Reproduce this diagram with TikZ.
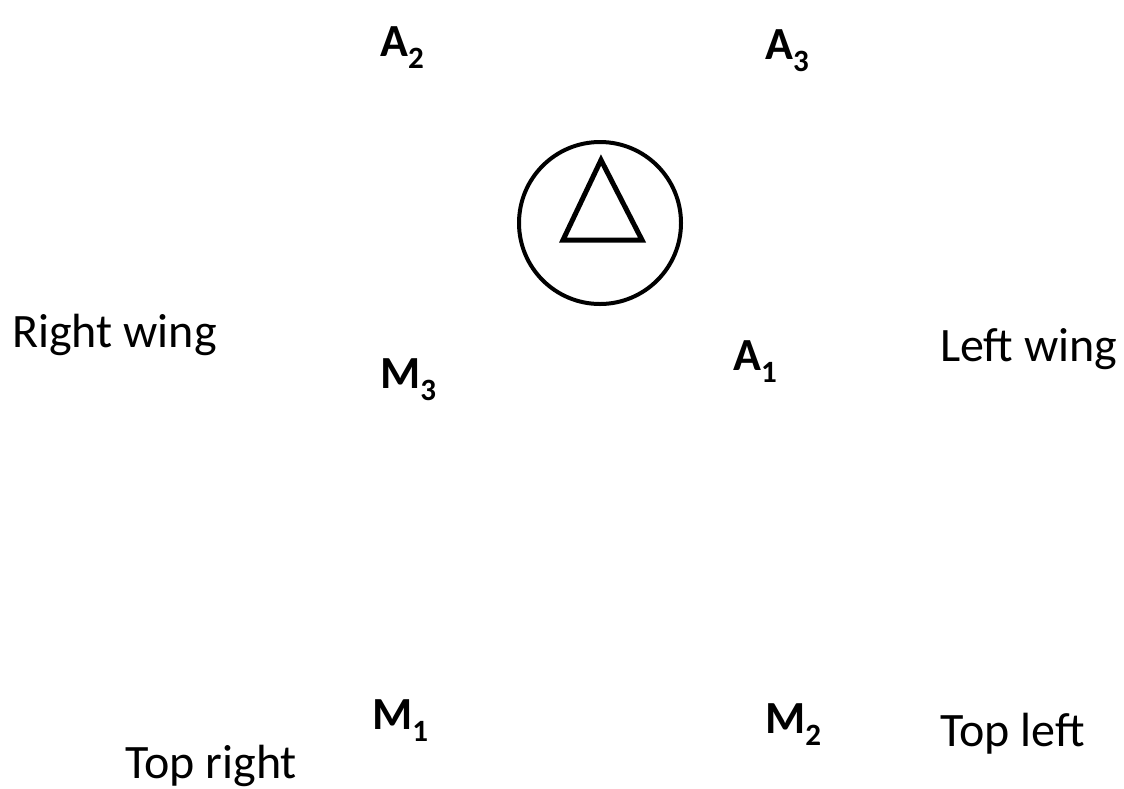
\documentclass[tikz,border=0pt]{standalone}
\usepackage{fontspec}
\setmainfont{Carlito}
\newcommand\subl[2]{#1\raisebox{-12pt}{\fontsize{31}{31}\selectfont #2}}
\begin{document}
\begin{tikzpicture}[x=1pt,y=-1pt,
	side/.style={anchor=base west,inner sep=0pt,font=\fontsize{48}{52}\selectfont},
	posl/.style={anchor=base west,inner sep=0pt,font=\fontsize{46}{52}\selectfont\bfseries}]
	\useasboundingbox (0,0) rectangle (1124,788);
	%symbol
	\node[draw,circle,line width=4pt,minimum size=162pt,inner sep=0pt] (ring) at (600,223) {};
	\draw[line width=5pt,line join=miter] (601,160) -- (563,240) -- (642,240) -- cycle;
	%sides
	\node[side] (rwing) at (12,347) {Right wing};
	\node[side] (lwing) at (940,361) {Left wing};
	\node[side] (tright) at (125,778) {Top right};
	\node[side] (tleft) at (940,746) {Top left};
	%positions
	\node[posl] (a2) at (380,56) {\subl{A}{2}};
	\node[posl] (a3) at (765,59) {\subl{A}{3}};
	\node[posl] (a1) at (733,370) {\subl{A}{1}};
	\node[posl] (m3) at (380,388) {\subl{M}{3}};
	\node[posl] (m1) at (372,729) {\subl{M}{1}};
	\node[posl] (m2) at (765,733) {\subl{M}{2}};
\end{tikzpicture}
\end{document}
